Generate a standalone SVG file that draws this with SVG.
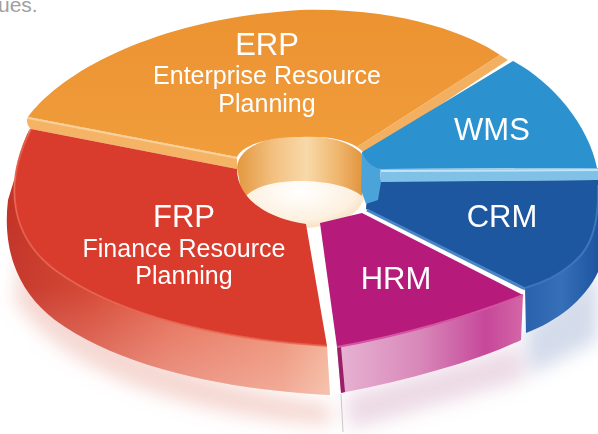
<svg xmlns="http://www.w3.org/2000/svg" width="598" height="434" viewBox="0 0 598 434">
<style>
.lbl{font-family:"Liberation Sans",Arial,Helvetica,sans-serif;fill:#ffffff;text-anchor:middle}
.big{font-size:31px}
.sub{font-size:25px}
</style>
<defs>
<filter id="blur" x="-20%" y="-20%" width="140%" height="140%"><feGaussianBlur stdDeviation="9"/></filter>
<linearGradient id="redSide" gradientUnits="userSpaceOnUse" x1="10" y1="0" x2="330" y2="0">
<stop offset="0" stop-color="#c22f22"/><stop offset="0.25" stop-color="#d4402c"/><stop offset="0.5" stop-color="#e3624a"/><stop offset="0.85" stop-color="#eb7f62"/><stop offset="1" stop-color="#f1a383"/>
</linearGradient>
<linearGradient id="fadeV" x1="0" y1="0" x2="0" y2="1">
<stop offset="0" stop-color="#ffffff" stop-opacity="0"/><stop offset="0.6" stop-color="#ffffff" stop-opacity="0.05"/><stop offset="1" stop-color="#ffffff" stop-opacity="0.35"/>
</linearGradient>
<linearGradient id="hrmSide" gradientUnits="userSpaceOnUse" x1="338" y1="0" x2="523" y2="0">
<stop offset="0" stop-color="#e7b3d3"/><stop offset="0.45" stop-color="#d887b9"/><stop offset="0.8" stop-color="#c6489a"/><stop offset="1" stop-color="#d466a7"/>
</linearGradient>
<linearGradient id="crmSide" gradientUnits="userSpaceOnUse" x1="525" y1="0" x2="598" y2="0">
<stop offset="0" stop-color="#2a62ad"/><stop offset="0.5" stop-color="#3670b8"/><stop offset="1" stop-color="#1d55a0"/>
</linearGradient>
<linearGradient id="wall" gradientUnits="userSpaceOnUse" x1="237" y1="0" x2="364" y2="0">
<stop offset="0" stop-color="#e3983f"/><stop offset="0.3" stop-color="#f3c283"/><stop offset="0.55" stop-color="#f8d9a9"/><stop offset="0.8" stop-color="#efb56c"/><stop offset="1" stop-color="#e0923a"/>
</linearGradient>
<radialGradient id="holeG" cx="0.5" cy="0.45" r="0.6">
<stop offset="0" stop-color="#ffffff"/><stop offset="0.7" stop-color="#fdf1e0"/><stop offset="1" stop-color="#f4dcb9"/>
</radialGradient>
<linearGradient id="orangeTop" x1="0" y1="0" x2="0" y2="1">
<stop offset="0" stop-color="#ec9231"/><stop offset="1" stop-color="#f09d3c"/>
</linearGradient>
</defs>

<rect width="598" height="434" fill="#ffffff"/>
<text x="-2" y="12" style="font-family:'Liberation Sans',Arial,sans-serif;font-size:21px;fill:#a0a0a0">ues.</text>

<g id="shadow" filter="url(#blur)">
<path d="M 20,250 C 60,330 180,380 330,405 L 330,425 C 180,415 60,370 15,300 Z" fill="#e8a89c" opacity="0.45"/>
<path d="M 345,395 L 520,345 L 525,380 L 350,430 Z" fill="#d8b0c8" opacity="0.45"/>
<path d="M 525,330 L 598,270 L 598,340 L 530,375 Z" fill="#9fb0d0" opacity="0.45"/>
</g>

<g id="hole">
<ellipse cx="300" cy="195" rx="64" ry="33" fill="url(#holeG)"/>
<path d="M 237,168 C 238,148 265,136 300,136 C 330,136 352,142 364,156 L 362,196 C 350,186 325,181 300,181 C 272,181 250,188 243,200 Z" fill="url(#wall)"/>
</g>

<g id="erp">
<path d="M 28,117 C 60,74 150,20 300,10 C 400,7 470,34 500,55 L 357,147 C 345,139 325,136 300,137 C 265,137 242,146 237,157 Z" fill="url(#orangeTop)"/>
<path d="M 500,55 L 508,60 L 366,154 L 357,147 Z" fill="#f3b060"/>
<path d="M 28,117 L 237,157 L 237,169 L 31,129 C 27,126 26,120 28,117 Z" fill="#f4b365"/>
<path d="M 28,118 L 237,158" stroke="#f9d09a" stroke-width="2" fill="none"/>
<text class="lbl big" x="267" y="55">ERP</text>
<text class="lbl sub" x="267" y="84">Enterprise Resource</text>
<text class="lbl sub" x="267" y="112">Planning</text>
</g>

<g id="frp">
<path d="M 30,128 C 0,190 15,240 55,270 C 120,318 230,340 327,346 L 330,395 C 230,390 120,368 55,320 C 18,292 2,250 8,200 Z" fill="url(#redSide)"/>
<path d="M 30,128 C 0,190 15,240 55,270 C 120,318 230,340 327,346 L 330,395 C 230,390 120,368 55,320 C 18,292 2,250 8,200 Z" fill="url(#fadeV)"/>
<path d="M 31,129 L 237,169 C 237,192 256,216 306,224 L 327,346 C 230,340 120,318 55,270 C 15,240 0,190 31,129 Z" fill="#d93b2d"/>
<path d="M 327,346 C 230,340 120,318 55,270 C 15,240 0,190 31,129" stroke="#e86650" stroke-width="2" fill="none" opacity="0.8"/>
<text class="lbl big" x="184" y="227">FRP</text>
<text class="lbl sub" x="184" y="257">Finance Resource</text>
<text class="lbl sub" x="184" y="284">Planning</text>
</g>

<g id="hrm">
<path d="M 337,347 C 400,336 470,316 523,295 L 521,340 C 480,360 410,380 341,393 Z" fill="url(#hrmSide)"/>
<path d="M 337,347 L 341,393 L 345,392 L 341,347 Z" fill="#9c1d68"/>
<path d="M 320,223 L 362,213 L 523,295 C 470,316 400,336 337,347 Z" fill="#b61b7c"/>
<path d="M 337,347 C 400,336 470,316 523,295" stroke="#d456a2" stroke-width="2" fill="none"/>
<path d="M 341,394 L 343,432" stroke="#c9c9c9" stroke-width="1" fill="none"/>
<text class="lbl big" x="396" y="289">HRM</text>
</g>

<g id="crm">
<path d="M 525,288 C 546,282 566,272 581,255 C 594,240 599,215 598,180 L 598,272 C 585,300 556,322 526,333 Z" fill="url(#crmSide)"/>
<path d="M 381,181 L 598,180 C 599,215 594,240 581,255 C 566,272 546,282 525,288 L 366,209 C 366,198 372,186 381,181 Z" fill="#1c579f"/>
<path d="M 367,210 L 525,289" stroke="#4a84c6" stroke-width="3" fill="none"/>
<path d="M 525,288 C 546,282 566,272 581,255 C 594,240 599,215 598,185" stroke="#3d76bd" stroke-width="2" fill="none"/>
<text class="lbl big" x="502" y="227">CRM</text>
</g>

<g id="wms">
<path d="M 362,152 L 380,169 L 381,182 L 378,200 L 366,204 L 361,190 Z" fill="#4aa4da"/>
<path d="M 362,152 L 513,61 C 552,82 588,124 597,168 L 380,169 C 372,167 365,161 362,152 Z" fill="#2b92cf"/>
<path d="M 380,169 L 598,168 L 598,180 L 381,182 Z" fill="#80c1e8"/>
<path d="M 381,171 L 598,170" stroke="#c4e3f6" stroke-width="2" fill="none"/>
<text class="lbl big" x="492" y="140">WMS</text>
</g>
</svg>
